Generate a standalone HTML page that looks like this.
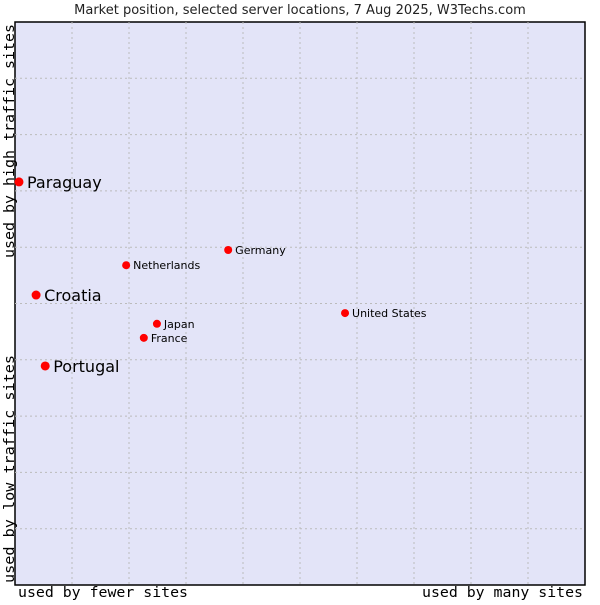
<!DOCTYPE html>
<html><head><meta charset="utf-8"><style>
body{margin:0;background:#fff;width:600px;height:600px;overflow:hidden}
svg text{font-family:"DejaVu Sans","Liberation Sans",sans-serif}
.mono{font-family:"DejaVu Sans Mono","Liberation Mono",monospace}
</style></head><body>
<svg id="chart" width="600" height="600" xmlns="http://www.w3.org/2000/svg">
<text x="300" y="14" font-size="13" text-anchor="middle" fill="#222">Market position, selected server locations, 7 Aug 2025, W3Techs.com</text>
<rect x="15" y="22" width="570" height="563" fill="#e3e4f8" stroke="#000" stroke-width="1.5"/>
<g id="grid"></g>
<g id="points"></g>
<text class="mono" x="18" y="597" font-size="14" textLength="170" lengthAdjust="spacingAndGlyphs">used by fewer sites</text>
<text class="mono" x="422" y="597" font-size="14" textLength="161" lengthAdjust="spacingAndGlyphs">used by many sites</text>
<text class="mono" transform="translate(14,258) rotate(-90)" font-size="14" textLength="234" lengthAdjust="spacingAndGlyphs">used by high traffic sites</text>
<text class="mono" transform="translate(14,583) rotate(-90)" font-size="14" textLength="228" lengthAdjust="spacingAndGlyphs">used by low traffic sites</text>
</svg>
<script>
const names=["Paraguay","Croatia","Portugal","Netherlands","Germany","United States","Japan","France"];
const xVals=[0.7,3.7,5.3,19.5,37.4,57.9,24.9,22.6];
const yVals=[71.6,51.5,38.9,56.8,59.5,48.3,46.4,43.9];
const big=[true,true,true,false,false,false,false,false];
const L=15,R=585,T=22,B=585;
const xs=v=>L+v/100*(R-L), ys=v=>B-v/100*(B-T);
const ns="http://www.w3.org/2000/svg";
const g=document.getElementById('grid');
for(let k=1;k<10;k++){
  const vl=document.createElementNS(ns,'line');
  
  
  const x=xs(k*10);vl.setAttribute('x1',x);vl.setAttribute('x2',x);vl.setAttribute('y1',T);vl.setAttribute('y2',B);
  vl.setAttribute('stroke','#bbb');vl.setAttribute('stroke-dasharray','2,3');g.appendChild(vl);
  const hl=document.createElementNS(ns,'line');
  
  
  const y=ys(k*10);hl.setAttribute('y1',y);hl.setAttribute('y2',y);hl.setAttribute('x1',L);hl.setAttribute('x2',R);
  hl.setAttribute('stroke','#bbb');hl.setAttribute('stroke-dasharray','2,3');g.appendChild(hl);
}
const p=document.getElementById('points');
names.forEach((n,i)=>{
  const x=xs(xVals[i]),y=ys(yVals[i]);
  const c=document.createElementNS(ns,'circle');
  
  
  c.setAttribute('cx',x);c.setAttribute('cy',y);c.setAttribute('r',big[i]?4.5:4);c.setAttribute('fill','#f00');p.appendChild(c);
  const t=document.createElementNS(ns,'text');
  
  
  t.setAttribute('x',x+(big[i]?8:7));t.setAttribute('y',y+(big[i]?6:4));
  t.setAttribute('font-size',big[i]?16:11);t.setAttribute('fill','#000');t.textContent=n;p.appendChild(t);
});
</script>
</body></html>
